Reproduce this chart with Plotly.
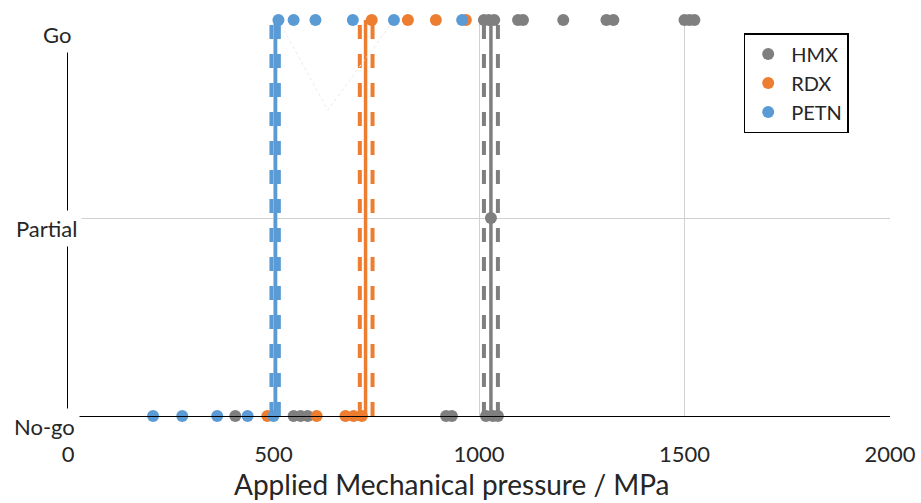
import plotly.graph_objects as go

# ---- data (MPa) ----
materials = ["HMX", "RDX", "PETN"]
colors = ["#7f7f7f", "#ed7d31", "#5b9bd5"]

level_values = [0, 1, 2]
level_labels = ["No-go", "Partial", "Go"]

hmx_go = [1012, 1024, 1037, 1095, 1107, 1205, 1310, 1327, 1500, 1512, 1524]
hmx_partial = [1029]
hmx_nogo = [407, 549, 566, 583, 920, 934, 1017, 1034, 1046]

rdx_go = [739, 827, 895, 968]
rdx_partial = []
rdx_nogo = [485, 605, 675, 695, 715]

petn_go = [512, 549, 602, 693, 793, 959]
petn_partial = []
petn_nogo = [207, 278, 363, 437, 500]

threshold = [1029, 724, 505]
lower_bound = [1012, 710, 495]
upper_bound = [1046, 741, 513]

faint_x = [512, 632, 793]
faint_y = [2, 1.545, 2]

x_ticks = [0, 500, 1000, 1500, 2000]
x_title = "Applied Mechanical pressure / MPa"

# ---- styles ----
label_xshift = [12, 14, 8]
label_yshift = [-10, -10, -14]
FONT = "Lato, 'Open Sans', sans-serif"
TXT = "#262626"

points = {
    "HMX": (hmx_go, hmx_partial, hmx_nogo),
    "RDX": (rdx_go, rdx_partial, rdx_nogo),
    "PETN": (petn_go, petn_partial, petn_nogo),
}

fig = go.Figure()

# threshold lines
for name, col, t, lo, hi in zip(materials, colors, threshold, lower_bound, upper_bound):
    for xv in (lo, hi):
        fig.add_trace(go.Scatter(x=[xv, xv], y=[level_values[0], level_values[2]], mode="lines",
                                 line=dict(color=col, width=4, dash="14px,15px"),
                                 showlegend=False, hoverinfo="skip"))
    fig.add_trace(go.Scatter(x=[t, t], y=[level_values[0], level_values[2]], mode="lines",
                             line=dict(color=col, width=3.5),
                             showlegend=False, hoverinfo="skip"))

fig.add_trace(go.Scatter(x=faint_x, y=faint_y, mode="lines",
                         line=dict(color="#ebebeb", width=1, dash="dot"),
                         showlegend=False, hoverinfo="skip"))

for name, col in zip(materials, colors):
    g, p, n = points[name]
    xs = list(g) + list(p) + list(n)
    ys = [level_values[2]] * len(g) + [level_values[1]] * len(p) + [level_values[0]] * len(n)
    fig.add_trace(go.Scatter(x=xs, y=ys, mode="markers", name=name,
                             marker=dict(color=col, size=12, line=dict(width=0)),
                             cliponaxis=False))

annotations = []
for v, lab, xs, ys in zip(level_values, level_labels, label_xshift, label_yshift):
    annotations.append(dict(xref="paper", x=0, yref="y", y=v, text=lab, showarrow=False,
                            xanchor="right", yanchor="middle", xshift=xs, yshift=ys,
                            bgcolor="white", borderpad=4,
                            font=dict(family=FONT, size=22, color=TXT)))
annotations.append(dict(xref="paper", x=0.467, yref="paper", y=0, text=x_title,
                        showarrow=False, xanchor="center", yanchor="middle", yshift=-68,
                        font=dict(family=FONT, size=28, color=TXT)))

fig.update_layout(
    width=921, height=503,
    margin=dict(l=68, r=31, t=20, b=87),
    paper_bgcolor="white", plot_bgcolor="white",
    font=dict(family=FONT, color=TXT),
    annotations=annotations,
    legend=dict(x=0.822, y=0.967, xanchor="left", yanchor="top",
                bordercolor="black", borderwidth=1.5, bgcolor="white",
                font=dict(family=FONT, size=20, color=TXT),
                itemsizing="constant", itemwidth=36, tracegroupgap=0),
    xaxis=dict(range=[0, 2000], tickvals=x_ticks, ticktext=[str(t) for t in x_ticks],
               showgrid=True, gridcolor="#d0d0d0", gridwidth=1, automargin=False,
               showline=True, linecolor="black", linewidth=1.3, zeroline=False,
               ticks="", ticklabelstandoff=18,
               tickfont=dict(family=FONT, size=22, color=TXT)),
    yaxis=dict(range=[0, 2], tickvals=level_values, showticklabels=False,
               showgrid=True, gridcolor="#d0d0d0", gridwidth=1, automargin=False,
               showline=True, linecolor="black", linewidth=1.3, zeroline=False,
               ticks=""),
)

fig.write_html("out.html")
